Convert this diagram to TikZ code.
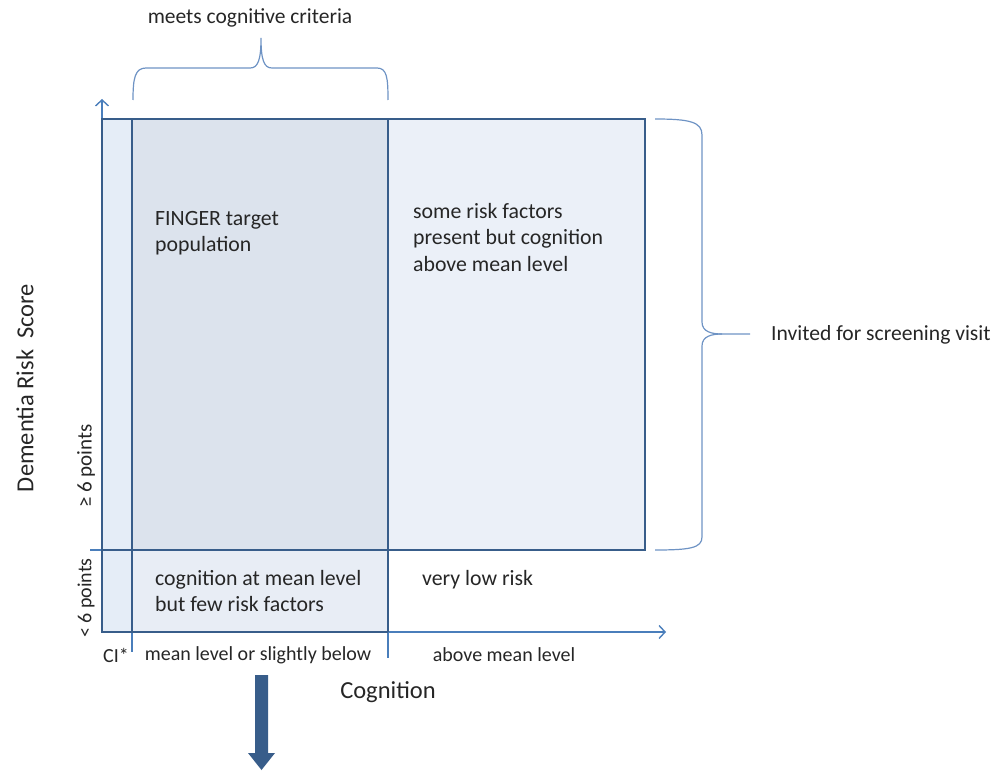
\documentclass[tikz,border=0pt]{standalone}
\usepackage{fontspec}
\setmainfont{Carlito}
\usetikzlibrary{arrows.meta}
\definecolor{frame}{HTML}{385D8A}
\definecolor{axisblue}{HTML}{4A7EBB}
\definecolor{bracecol}{HTML}{6E93C4}
\definecolor{stripfill}{HTML}{E5EDF7}
\definecolor{targetfill}{HTML}{DCE3ED}
\definecolor{riskfill}{HTML}{EBF0F8}
\definecolor{lowfill}{HTML}{E8EDF5}
\definecolor{inktext}{HTML}{262626}
\tikzset{
  chart/frame/.style={frame, line width=2.6pt},
  chart/axis/.style={axisblue, line width=1.4pt, -{Straight Barb[length=6pt,width=13pt]}},
  chart/tick/.style={axisblue, line width=1.1pt},
  chart/brace/.style={bracecol, line width=1.2pt},
  chart/label/.style={inktext, inner sep=0pt, align=left, font=\fontsize{20}{26.5}\selectfont},
  chart/region/.style={chart/label, font=\fontsize{21.8}{26.5}\selectfont},
  chart/title/.style={inktext, inner sep=0pt, font=\fontsize{24.5}{28}\selectfont},
}

\begin{document}
\begin{tikzpicture}[x=1pt, y=-1pt]
  \useasboundingbox (0,0) rectangle (996,773);
\fill[stripfill] (102,119) rectangle (132,632);
\fill[targetfill] (132,119) rectangle (388,550);
\fill[riskfill] (388,119) rectangle (645,550);
\fill[lowfill] (132,550) rectangle (388,632);
  \draw[chart/axis] (102,632) -- (102,99);
  \draw[chart/axis] (102,632) -- (666,632);
  \draw[chart/tick] (90,550) -- (102,550);
  \draw[chart/tick] (132,632) -- (132,652);
  \draw[chart/tick] (388,632) -- (388,658);
  \draw[chart/frame] (102,119) rectangle (645,550);
  \draw[chart/frame] (132,119) -- (132,632);
  \draw[chart/frame] (388,119) -- (388,632);
  \draw[chart/frame] (102,550) -- (102,632) -- (388,632);
  \draw[chart/brace] (133,100) .. controls (133,78) and (135,68) .. (146,68) -- (250,68)
    .. controls (258,68) and (261,60) .. (261,38)
    .. controls (261,60) and (264,68) .. (272,68) -- (377,68)
    .. controls (387,68) and (388,78) .. (388,100);
  \draw[chart/brace] (655,119) .. controls (690,119) and (702,122) .. (702,135) -- (702,322)
    .. controls (702,332) and (712,334) .. (722,334) -- (750,334);
  \draw[chart/brace] (722,334) .. controls (712,334) and (702,336) .. (702,346) -- (702,537)
    .. controls (702,548) and (690,550) .. (655,550);
\fill[frame] (255,675) -- (268,675) -- (268,753) -- (275,753) -- (261.5,770) -- (248,753) -- (255,753) -- cycle;
\node[chart/region, anchor=north west] (target) at (155,211) {FINGER target\\population};
\node[chart/region, anchor=north west] (risk) at (413,203) {some risk factors\\present but cognition\\above mean level};
\node[chart/region, anchor=north west] (lowrisk) at (155,570) {cognition at mean level\\but few risk factors};
\node[chart/region, anchor=north west] (verylow) at (422,570) {very low risk};
\node[chart/region, font=\fontsize{21.6}{26}\selectfont, anchor=west] (invited) at (771,335) {Invited for screening visit};
\node[chart/label, font=\fontsize{21.5}{26}\selectfont] (meets) at (250,18) {meets cognitive criteria};
\node[chart/label] (ci) at (116,655) {CI*};
\node[chart/label] (lowcog) at (258,655) {mean level or slightly below};
\node[chart/label] (highcog) at (504,655) {above mean level};
\node[chart/title] (xtitle) at (388,692) {Cognition};
\node[chart/title, rotate=90] (ytitle) at (25,388) {Dementia Risk\ \ Score};
\node[chart/label, font=\fontsize{21}{26}\selectfont, rotate=90] (highscore) at (86,466) {≥ 6 points};
\node[chart/label, rotate=90] (lowscore) at (86,598) {< 6 points};
\end{tikzpicture}
\end{document}
